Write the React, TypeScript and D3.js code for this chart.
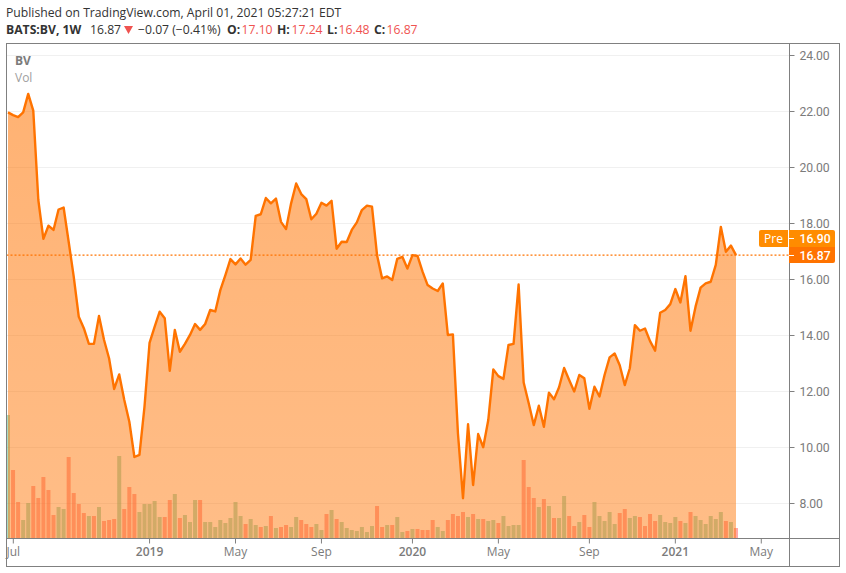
import React from "react";
import * as d3 from "d3";

const prices: number[] = [
  21.97, 21.87, 21.8, 21.97, 22.63, 22.03, 18.84, 17.45, 17.92, 17.77,
  18.5, 18.57, 17.35, 16.1, 14.67, 14.26, 13.7, 13.7, 14.7, 13.84,
  13.18, 12.09, 12.61, 11.7, 10.92, 9.66, 9.74, 11.46, 13.74, 14.31,
  14.85, 14.62, 12.74, 14.2, 13.42, 13.7, 14.02, 14.41,
  14.2, 14.41, 14.91, 14.86, 15.62, 16.16, 16.73, 16.54, 16.75, 16.53,
  16.7, 18.27, 18.33, 18.91, 18.72, 18.89, 18.06, 17.8, 18.72, 19.43,
  19.05, 18.87, 18.15, 18.35, 18.74, 18.64, 18.81, 17.1, 17.35, 17.34,
  17.77, 18.04, 18.48, 18.64, 18.6, 16.87, 16.04, 16.11, 15.98, 16.74,
  16.81, 16.39, 16.87, 16.84, 16.28, 15.8, 15.68, 15.59, 15.86, 14.02, 14.04,
  10.51, 8.19, 10.83, 8.66, 10.48, 10.01, 10.98, 12.79, 12.55, 12.45,
  13.66, 13.7, 15.82, 12.32, 11.58, 10.8, 11.49, 10.74, 11.96, 11.72,
  12.15, 12.84, 12.41, 12.0, 12.59, 12.47, 11.38, 12.17, 11.82, 12.59, 13.22,
  13.36, 12.94, 12.23, 12.83, 14.37, 14.17, 14.25, 13.8, 13.46, 14.81,
  14.91, 15.12, 15.66, 15.18, 16.12, 14.17, 15.03, 15.71, 15.86, 15.92,
  16.52, 17.88, 16.99, 17.21, 16.87,
];

const volumes: number[] = [
  369, 204, 108, 54, 105, 156, 120, 183, 144, 69,
  93, 87, 243, 135, 102, 75, 66, 66, 93, 51,
  54, 57, 246, 87, 153, 132, 78, 102, 102, 111,
  63, 63, 114, 132, 60, 69, 48, 114, 114, 48,
  48, 33, 54, 45, 60, 108, 66, 42, 57, 39,
  33, 36, 66, 30, 33, 39, 33, 63, 54, 42,
  33, 42, 24, 72, 84, 57, 48, 30, 24, 21,
  33, 18, 36, 96, 33, 39, 39, 63, 18, 21,
  27, 27, 24, 24, 54, 33, 21, 54, 72, 66,
  78, 63, 72, 57, 57, 51, 54, 45, 66, 36,
  39, 39, 234, 153, 120, 93, 117, 96, 60, 60,
  126, 66, 36, 48, 69, 33, 108, 66, 51, 78,
  42, 75, 87, 60, 66, 63, 36, 72, 51, 69,
  48, 45, 63, 51, 45, 78, 66, 54, 42, 66,
  57, 78, 51, 48, 30,
];

const volumeUp: number[] = [
  1, 0, 0, 1, 1, 0, 0, 0, 0, 0,
  1, 1, 0, 0, 0, 0, 1, 0, 1, 0,
  0, 0, 1, 0, 0, 0, 1, 1, 1, 1,
  1, 0, 0, 1, 0, 1, 1, 1, 0, 1,
  1, 1, 1, 1, 1, 1, 1, 0, 1, 1,
  0, 1, 0, 1, 0, 0, 1, 1, 0, 0,
  0, 1, 1, 0, 1, 0, 1, 1, 1, 1,
  1, 1, 1, 0, 0, 1, 0, 1, 1, 0,
  1, 0, 0, 0, 0, 1, 1, 0, 0, 0,
  0, 1, 0, 1, 0, 1, 1, 0, 1, 1,
  1, 1, 0, 0, 0, 1, 0, 1, 0, 1,
  1, 0, 0, 1, 0, 0, 1, 1, 1, 1,
  1, 0, 0, 1, 1, 0, 0, 0, 0, 1,
  1, 1, 1, 0, 1, 0, 1, 1, 1, 1,
  1, 1, 0, 1, 0,
];

const priceTicks = [8, 10, 12, 14, 16, 18, 20, 22, 24];
const timeTicks: [number, string, boolean][] = [
  [1.05, "Jul", false],
  [28, "2019", true],
  [45, "May", false],
  [62, "Sep", false],
  [80, "2020", true],
  [97, "May", false],
  [115, "Sep", false],
  [132, "2021", true],
  [149, "May", false],
];

const W = 846;
const H = 573;
const FONT = "'Open Sans', sans-serif";
const PRICE_FONT = "Roboto, sans-serif";
const ORANGE = "#ff7300";
const GRAY = "#7b7b7b";
const AXIS = "#808080";

export default function App() {
  const x = d3.scaleLinear().domain([0, 144]).range([8, 736]);
  const y = d3.scaleLinear().domain([8, 24]).range([503.5, 55.5]);
  const v = d3.scaleLinear().domain([0, 369]).range([538, 415]);
  const left = 6.5, right = 839.5, top = 43.5, bottom = 566.5, axisX = 789.5, axisY = 538.5;

  const line = d3.line<number>().x((_, i) => x(i)).y((d) => y(d));
  const area = d3.area<number>().x((_, i) => x(i)).y0(538).y1((d) => y(d));
  const last = y(16.87);

  return (
    <svg width={W} height={H} style={{ position: "fixed", left: 0, top: 0, background: "#fff", fontFamily: FONT }}>
      <defs>
        <linearGradient id="fill" x1="0" y1="0" x2="0" y2="1">
          <stop offset="0" stopColor={ORANGE} stopOpacity={0.55} />
          <stop offset="1" stopColor={ORANGE} stopOpacity={0.47} />
        </linearGradient>
        <clipPath id="plot">
          <rect x={left} y={top} width={axisX - left} height={axisY - top} />
        </clipPath>
      </defs>

      {priceTicks.map((t) => (
        <line key={t} x1={left} x2={axisX} y1={y(t)} y2={y(t)} stroke="#f0f0f0" />
      ))}

      <g clipPath="url(#plot)">
        {volumes.map((d, i) => (
          <rect
            key={i}
            x={x(i) - 2}
            y={v(d)}
            width={4}
            height={538 - v(d)}
            fill={volumeUp[i] ? "rgba(83,185,135,0.5)" : "rgba(255,82,82,0.5)"}
          />
        ))}
        <path d={area(prices) ?? ""} fill="url(#fill)" />
        <path d={line(prices) ?? ""} fill="none" stroke={ORANGE} strokeWidth={2.4} strokeLinejoin="round" />
      </g>

      <line x1={left} x2={axisX} y1={last} y2={last} stroke={ORANGE} strokeWidth={1.4} strokeDasharray="2 2" />

      <rect x={left} y={top} width={right - left} height={bottom - top} fill="none" stroke={AXIS} />
      <line x1={axisX} x2={axisX} y1={top} y2={bottom} stroke={AXIS} />
      <line x1={left} x2={right} y1={axisY} y2={axisY} stroke={AXIS} />

      {priceTicks.map((t) => (
        <g key={t}>
          <line x1={axisX} x2={axisX + 5} y1={y(t)} y2={y(t)} stroke={AXIS} />
          <text x={799.5} y={y(t) + 4.3} fontFamily={PRICE_FONT} fontSize={12.2} letterSpacing={-0.1} fill={GRAY}>{t.toFixed(2)}</text>
        </g>
      ))}

      {timeTicks.map(([t, label, bold]) => (
        <g key={label + t}>
          <line x1={x(t)} x2={x(t)} y1={axisY} y2={axisY + 5} stroke={AXIS} />
          <text
            x={x(t)}
            y={556}
            textAnchor="middle"
            fontSize={12}
            fontWeight={bold ? 600 : 400}
            fill={GRAY}
          >
            {label}
          </text>
        </g>
      ))}

      <path d="M759 232a2 2 0 0 1 2-2h27v17h-27a2 2 0 0 1-2-2z" fill="#ff8c00" />
      <text x={773.5} y={243} textAnchor="middle" fontSize={12} fill="#fff">Pre</text>
      <path d="M789 230h44a2 2 0 0 1 2 2v15h-46z" fill="#ff8c00" />
      <line x1={789} x2={794} y1={238.5} y2={238.5} stroke="#fff" />
      <text x={799.5} y={243} fontFamily={PRICE_FONT} fontSize={12.2} fontWeight={500} fill="#fff">16.90</text>
      <path d="M789 247h46v14a2 2 0 0 1-2 2h-44z" fill={ORANGE} />
      <line x1={789} x2={794} y1={255.5} y2={255.5} stroke="#fff" />
      <text x={799.5} y={260} fontFamily={PRICE_FONT} fontSize={12.2} fontWeight={500} fill="#fff">16.87</text>

      <text x={6} y={17} fontSize={12.2} fill="#333">Published on TradingView.com, April 01, 2021 05:27:21 EDT</text>
      <text y={34} fontSize={12.2} fill="#333">
        <tspan x={6} fontWeight={700}>BATS:BV, 1W</tspan>
        <tspan x={90}>16.87</tspan>
        <tspan x={138}>−0.07 (−0.41%)</tspan>
        <tspan x={227} fontWeight={700}>O:</tspan>
        <tspan x={241.5} fill="#ef5350">17.10</tspan>
        <tspan x={277} fontWeight={700}>H:</tspan>
        <tspan x={291.5} fill="#ef5350">17.24</tspan>
        <tspan x={327} fontWeight={700}>L:</tspan>
        <tspan x={338.5} fill="#ef5350">16.48</tspan>
        <tspan x={374} fontWeight={700}>C:</tspan>
        <tspan x={386.5} fill="#ef5350">16.87</tspan>
      </text>
      <path d="M124 26h9l-4.5 8z" fill="#ef5350" />

      <text x={15} y={65} fontSize={12} fontWeight={700} fill="#7b7b7b">BV</text>
      <text x={15} y={82} fontSize={12} fill="#a0a0a0">Vol</text>
    </svg>
  );
}
